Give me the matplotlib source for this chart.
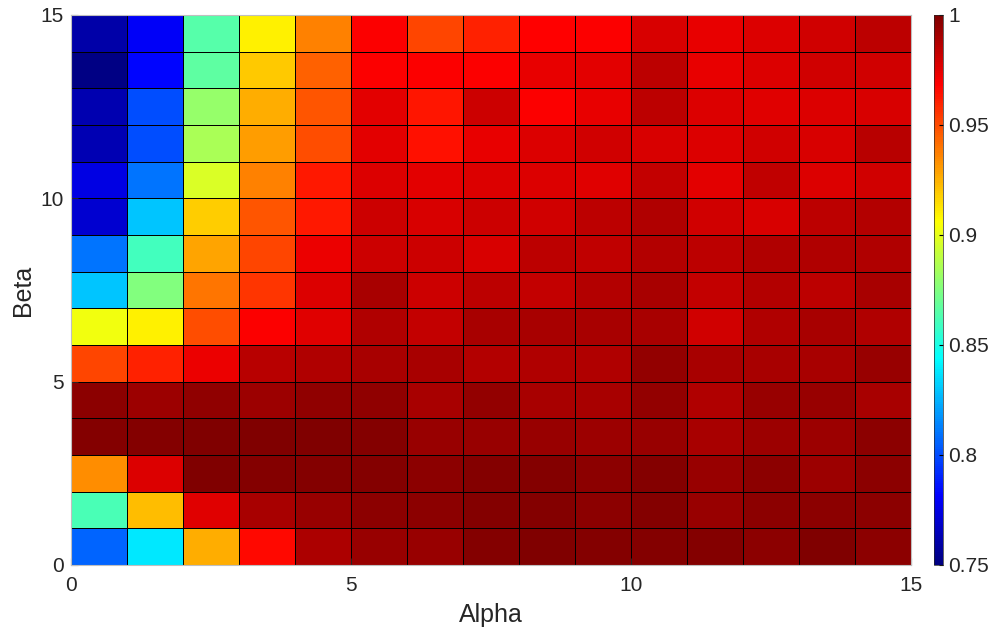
import numpy as np
import matplotlib
matplotlib.use("Agg")
import matplotlib.pyplot as plt
from matplotlib.colors import LinearSegmentedColormap

plt.rcParams['font.family'] = ['Liberation Sans', 'DejaVu Sans']

# grid edges
alpha_edges = np.arange(0, 16)
beta_edges = np.arange(0, 16)

# values per row, bottom row (beta 0-1) first, columns alpha 0..14
row01 = [0.806, 0.838, 0.926, 0.966, 0.989, 0.994, 0.994, 0.999, 1.000, 0.999, 0.999, 0.999, 0.997, 1.000, 0.997]
row02 = [0.862, 0.922, 0.976, 0.990, 0.994, 0.997, 0.997, 0.999, 0.999, 0.997, 0.999, 0.994, 0.997, 0.997, 0.997]
row03 = [0.934, 0.977, 1.000, 0.999, 0.999, 0.999, 0.997, 0.999, 0.999, 0.997, 0.999, 0.994, 0.997, 0.993, 0.997]
row04 = [0.999, 0.999, 1.000, 1.000, 1.000, 0.999, 0.994, 0.994, 0.994, 0.993, 0.994, 0.990, 0.993, 0.993, 0.997]
row05 = [0.997, 0.993, 0.996, 0.993, 0.996, 0.996, 0.990, 0.995, 0.990, 0.990, 0.995, 0.988, 0.994, 0.994, 0.990]
row06 = [0.952, 0.960, 0.973, 0.986, 0.988, 0.990, 0.990, 0.987, 0.988, 0.988, 0.995, 0.990, 0.990, 0.990, 0.994]
row07 = [0.903, 0.910, 0.950, 0.969, 0.976, 0.988, 0.983, 0.990, 0.990, 0.990, 0.990, 0.980, 0.988, 0.990, 0.988]
row08 = [0.830, 0.875, 0.940, 0.956, 0.977, 0.990, 0.981, 0.985, 0.983, 0.987, 0.990, 0.983, 0.987, 0.985, 0.990]
row09 = [0.810, 0.860, 0.928, 0.952, 0.973, 0.981, 0.981, 0.978, 0.985, 0.984, 0.987, 0.985, 0.988, 0.988, 0.988]
row10 = [0.770, 0.830, 0.918, 0.948, 0.962, 0.981, 0.978, 0.981, 0.980, 0.985, 0.988, 0.980, 0.978, 0.985, 0.987]
row11 = [0.775, 0.810, 0.897, 0.937, 0.962, 0.977, 0.975, 0.977, 0.977, 0.976, 0.983, 0.975, 0.984, 0.977, 0.980]
row12 = [0.763, 0.800, 0.885, 0.930, 0.950, 0.975, 0.964, 0.974, 0.977, 0.980, 0.978, 0.977, 0.980, 0.978, 0.986]
row13 = [0.762, 0.800, 0.880, 0.926, 0.948, 0.975, 0.963, 0.981, 0.969, 0.974, 0.985, 0.977, 0.976, 0.977, 0.978]
row14 = [0.751, 0.783, 0.867, 0.919, 0.945, 0.969, 0.969, 0.969, 0.974, 0.975, 0.985, 0.974, 0.977, 0.980, 0.980]
row15 = [0.760, 0.780, 0.865, 0.910, 0.937, 0.969, 0.952, 0.960, 0.968, 0.969, 0.978, 0.974, 0.977, 0.980, 0.985]

Z = np.array([row01, row02, row03, row04, row05, row06, row07, row08,
              row09, row10, row11, row12, row13, row14, row15])

ticks = [0, 5, 10, 15]
cbar_ticks = [0.75, 0.8, 0.85, 0.9, 0.95, 1.0]
cbar_labels = ['0.75', '0.8', '0.85', '0.9', '0.95', '1']

# matlab style jet
jet_m = LinearSegmentedColormap.from_list('jet_m', [
    (0.0, (0, 0, 0.5)), (1/8, (0, 0, 1)), (3/8, (0, 1, 1)),
    (5/8, (1, 1, 0)), (7/8, (1, 0, 0)), (1.0, (0.5, 0, 0))], N=256)

fig = plt.figure(figsize=(9.98, 6.32), dpi=100)
ax = fig.add_axes([71/998, 1-565/632, 840/998, 550/632])

mesh = ax.pcolormesh(alpha_edges, beta_edges, Z, cmap=jet_m, vmin=0.75, vmax=1.0,
                     edgecolors='black', linewidth=0.5)
ax.set_xlim(0, 15)
ax.set_ylim(0, 15)
ax.set_xticks(ticks)
ax.set_yticks(ticks)
ax.tick_params(direction='in', labelsize=15, length=5, color='#262626', labelcolor='#262626')
ax.tick_params(axis='x', pad=8)
ax.tick_params(axis='y', pad=5)
ax.set_xlabel('Alpha', fontsize=18, labelpad=6, color='#262626')
ax.set_ylabel('Beta', fontsize=18, labelpad=4, color='#262626')
for s in ax.spines.values():
    s.set_color('#bfbfbf')
    s.set_linewidth(0.8)

cax = fig.add_axes([934/998, 1-565/632, 9/998, 550/632])
cb = fig.colorbar(mesh, cax=cax)
cb.set_ticks(cbar_ticks)
cb.set_ticklabels(cbar_labels)
cb.ax.tick_params(direction='in', labelsize=15, length=3, pad=4, labelcolor='#262626')
cb.outline.set_linewidth(0.5)
cb.outline.set_edgecolor('#262626')

fig.savefig('out.png', dpi=100)
